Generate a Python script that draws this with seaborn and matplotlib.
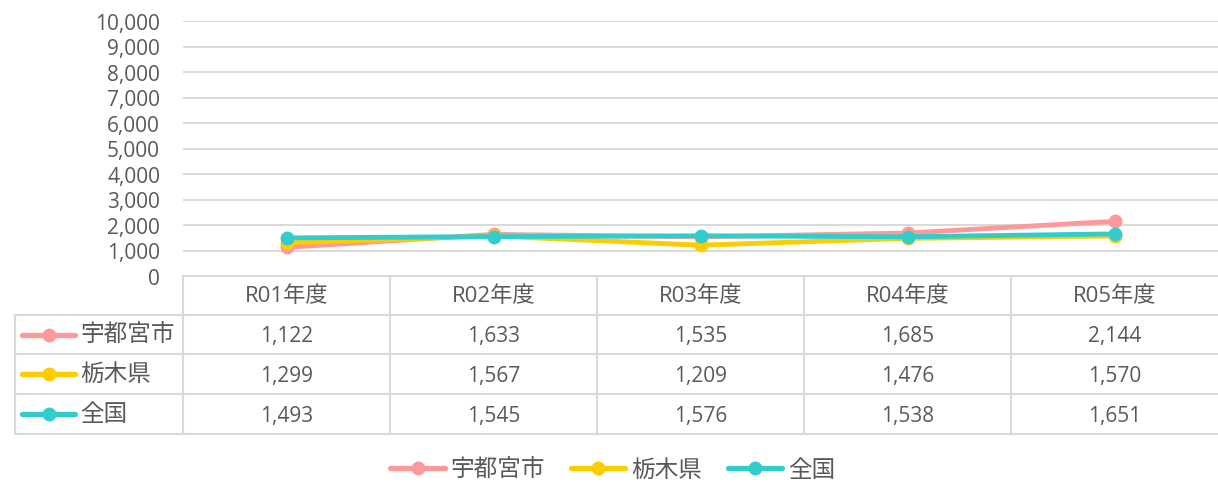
import matplotlib
matplotlib.use("Agg")
import matplotlib.pyplot as plt
from matplotlib.lines import Line2D
from matplotlib.ticker import FuncFormatter
import pandas as pd
import seaborn as sns

# ---- data ----
years = ["R01年度", "R02年度", "R03年度", "R04年度", "R05年度"]
series_names = ["宇都宮市", "栃木県", "全国"]
utsunomiya = [1122, 1633, 1535, 1685, 2144]
tochigi = [1299, 1567, 1209, 1476, 1570]
zenkoku = [1493, 1545, 1576, 1538, 1651]
y_ticks = list(range(0, 10001, 1000))

colors = ["#FF9999", "#FFCC00", "#33CCCC"]
text_color = "#595959"
grid_color = "#D9D9D9"

sns.set_theme(style="white")
plt.rcParams["font.family"] = ["Open Sans", "Noto Sans CJK JP", "DejaVu Sans"]

df = pd.DataFrame({
    "年度": years * 3,
    "区分": [n for n in series_names for _ in years],
    "値": utsunomiya + tochigi + zenkoku,
})

W, H = 1218, 485
fig = plt.figure(figsize=(W / 100, H / 100), dpi=100)

# plot area in pixel layout
px_left, px_right, px_top, px_bottom = 183, 1218, 22, 277
ax = fig.add_axes([px_left / W, 1 - px_bottom / H,
                   (px_right - px_left) / W, (px_bottom - px_top) / H])

sns.lineplot(data=df, x="年度", y="値", hue="区分", hue_order=series_names,
             palette=colors, marker="o", markersize=10, markeredgewidth=0,
             linewidth=3.5, sort=False, legend=False, ax=ax)

ax.set_xlim(-0.5, len(years) - 0.5)
ax.set_ylim(0, 10000)
ax.set_yticks(y_ticks)
ax.yaxis.set_major_formatter(FuncFormatter(lambda v, p: f"{int(v):,}"))
ax.tick_params(axis="y", length=0, pad=16.5, labelsize=15, labelcolor=text_color)
ax.set_xticks([])
ax.set_xlabel("")
ax.set_ylabel("")
for s in ax.spines.values():
    s.set_visible(False)
ax.grid(axis="y", color=grid_color, linewidth=1.4)
ax.set_axisbelow(True)

# ---- data table beneath the plot ----
tax = fig.add_axes([0, 0, 1, 1], zorder=-1)
tax.set_xlim(0, W)
tax.set_ylim(H, 0)
tax.axis("off")

col_w = (px_right - px_left) / len(years)
col_edges = [px_left + i * col_w for i in range(len(years) + 1)]
row_edges = [277, 316, 355, 395, 435]
label_left = 15
lw_tab = 1.5

tax.plot([px_left, W], [row_edges[0]] * 2, color=grid_color, lw=lw_tab)
for yv in row_edges[1:]:
    tax.plot([label_left, W], [yv, yv], color=grid_color, lw=lw_tab)
tax.plot([label_left, label_left], [row_edges[1], row_edges[-1]], color=grid_color, lw=lw_tab)
for xv in col_edges[:-1]:
    tax.plot([xv, xv], [row_edges[0], row_edges[-1]], color=grid_color, lw=lw_tab)

centers = [(col_edges[i] + col_edges[i + 1]) / 2 for i in range(len(years))]
hdr_y = (row_edges[0] + row_edges[1]) / 2
for cx, yr in zip(centers, years):
    tax.text(cx, hdr_y, yr, ha="center", va="center", fontsize=16, color=text_color)

for r, (name, vals, c) in enumerate(zip(series_names, [utsunomiya, tochigi, zenkoku], colors)):
    ry = (row_edges[r + 1] + row_edges[r + 2]) / 2
    tax.plot([22, 75], [ry, ry], color=c, lw=3.8, solid_capstyle="round")
    tax.plot([49], [ry], marker="o", markersize=10, color=c, markeredgewidth=0)
    tax.text(80, ry, name, ha="left", va="center", fontsize=17, color=text_color)
    for cx, v in zip(centers, vals):
        tax.text(cx, ry + 1.5, f"{v:,}", ha="center", va="center", fontsize=15,
                 color=text_color)

# ---- legend ----
handles = [Line2D([0], [0], color=c, lw=3.8, marker="o", markersize=10,
                  markeredgewidth=0, solid_capstyle="round") for c in colors]
fig.legend(handles, series_names, loc="center", bbox_to_anchor=(613 / W, 1 - 471 / H),
           ncol=3, frameon=False, fontsize=17, labelcolor=text_color,
           handlelength=2.3, handletextpad=0.25, columnspacing=1.1)

fig.savefig("out.png", dpi=100)
